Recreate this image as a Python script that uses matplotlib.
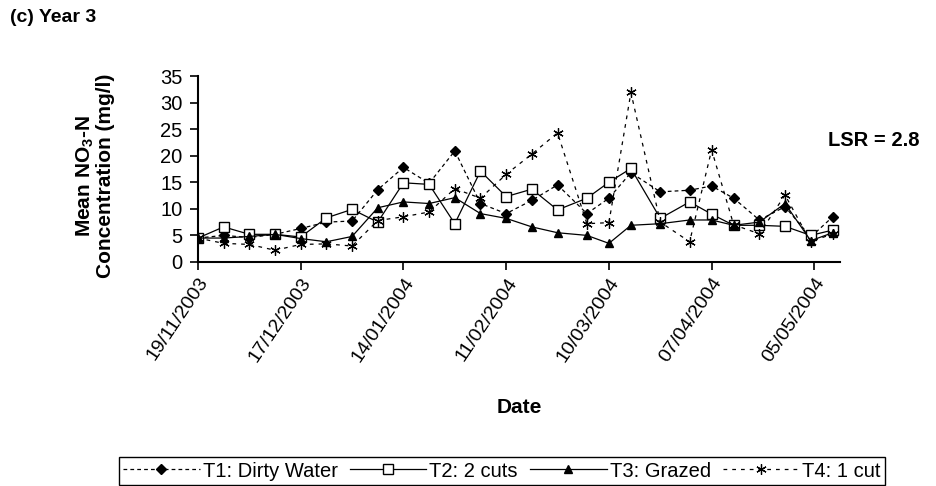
import pandas as pd
import matplotlib.pyplot as plt
import matplotlib.dates as mdates

plt.rcParams['font.family'] = ['Liberation Sans', 'DejaVu Sans']
plt.rcParams['mathtext.fontset'] = 'custom'
plt.rcParams['mathtext.rm'] = 'Liberation Sans'
plt.rcParams['mathtext.bf'] = 'Liberation Sans:bold'

# Sampling dates (roughly weekly)
dates = pd.to_datetime([
    "2003-11-19", "2003-11-26", "2003-12-03", "2003-12-10", "2003-12-17",
    "2003-12-24", "2003-12-31", "2004-01-07", "2004-01-14", "2004-01-21",
    "2004-01-28", "2004-02-04", "2004-02-11", "2004-02-18", "2004-02-25",
    "2004-03-04", "2004-03-10", "2004-03-16", "2004-03-24", "2004-04-01",
    "2004-04-07", "2004-04-13", "2004-04-20", "2004-04-27", "2004-05-04",
    "2004-05-10",
])

# Mean NO3-N concentration (mg/l)
t1_dirty_water = [4.5, 5.0, 4.6, 5.2, 6.3, 7.5, 7.7, 13.6, 17.8, 14.8, 20.9, 11.0, 9.1,
                  11.6, 14.5, 9.1, 12.0, 16.8, 13.2, 13.5, 14.3, 12.0, 7.9, 10.4, 4.7, 8.5]
t2_two_cuts = [4.5, 6.6, 5.2, 5.2, 4.7, 8.3, 9.9, 7.5, 14.9, 14.6, 7.2, 17.1, 12.3,
               13.7, 9.8, 12.0, 15.0, 17.6, 8.2, 11.3, 9.0, 6.9, 6.9, 6.7, 5.0, 6.0]
t3_grazed = [4.5, 4.5, 4.8, 5.2, 4.4, 3.8, 4.8, 10.2, 11.3, 11.0, 12.1, 9.1, 8.2,
             6.6, 5.5, 5.0, 3.5, 6.9, 7.2, 7.9, 7.9, 6.9, 7.5, 11.0, 4.0, 5.5]
t4_one_cut = [4.5, 3.5, 3.3, 2.2, 3.3, 3.4, 3.0, 7.8, 8.5, 9.4, 13.8, 12.0, 16.5,
              20.3, 24.3, 7.2, 7.4, 31.9, 7.5, 3.8, 21.1, 7.0, 5.3, 12.6, 3.8, 5.3]

tick_dates = pd.date_range("2003-11-19", periods=7, freq="28D")

fig = plt.figure(figsize=(9.36, 4.86), dpi=100)
ax = fig.add_axes([0.2115, 0.461, 0.686, 0.3826])

lw = 0.9
ax.plot(dates, t1_dirty_water, color='black', lw=lw, linestyle=(0, (3, 2.5)),
        marker='D', markersize=5.5, label='T1: Dirty Water')
ax.plot(dates, t2_two_cuts, color='black', lw=lw, linestyle='-',
        marker='s', markersize=6.5, markerfacecolor='white', label='T2: 2 cuts')
ax.plot(dates, t3_grazed, color='black', lw=lw, linestyle='-',
        marker='^', markersize=6, label='T3: Grazed')
ax.plot(dates, t4_one_cut, color='black', lw=lw, linestyle=(0, (3, 4)),
        marker=(6, 2, 0), markersize=7.5, markeredgewidth=0.9, label='T4: 1 cut')

ax.set_xlim(pd.Timestamp("2003-11-19"), pd.Timestamp("2004-05-12"))
ax.set_ylim(0, 35)
ax.set_yticks(range(0, 36, 5))
ax.set_xticks(tick_dates)
ax.xaxis.set_major_formatter(mdates.DateFormatter('%d/%m/%Y'))
plt.setp(ax.get_xticklabels(), rotation=56, ha='right', va='top', rotation_mode='anchor')
ax.tick_params(axis='both', direction='out', length=6, width=1.2, labelsize=14.5,
               colors='black', pad=5)
ax.tick_params(axis='x', labelsize=14, pad=3)

for side in ['top', 'right']:
    ax.spines[side].set_visible(False)
for side in ['left', 'bottom']:
    ax.spines[side].set_linewidth(1.5)

fig.text(95 / 936, 1 - 176 / 486, 'Mean NO$_{\\mathbf{3}}$-N\nConcentration (mg/l)',
         rotation=90, ha='center', va='center', multialignment='center',
         fontsize=15, fontweight='bold', linespacing=1.0)
fig.text(519 / 936, 1 - 407 / 486, 'Date', ha='center', va='center',
         fontsize=15, fontweight='bold')

fig.text(10 / 936, 1 - 18 / 486, '(c) Year 3', fontsize=14, fontweight='bold', va='center')
fig.text(828 / 936, 1 - 141 / 486, 'LSR = 2.8', fontsize=14.5, fontweight='bold', va='center')

fig.legend(loc='center', bbox_to_anchor=(502 / 936, 1 - 471 / 486), ncol=4, frameon=True,
           fancybox=False, edgecolor='black', fontsize=14.5, handlelength=3.8,
           columnspacing=0.6, handletextpad=0.15, borderpad=0.2, framealpha=1)

fig.savefig('out.png', dpi=100)
